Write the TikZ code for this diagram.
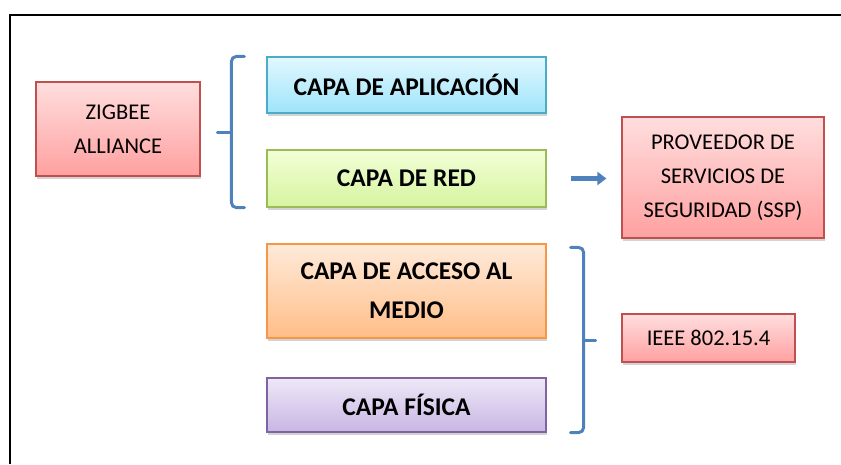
\documentclass[tikz,border=0pt]{standalone}
\usepackage{fontspec}
\setmainfont{Carlito}
\usetikzlibrary{shadows, arrows.meta, calc}
\definecolor{pinkT}{RGB}{255,222,222}
\definecolor{pinkB}{RGB}{255,160,160}
\definecolor{pinkD}{RGB}{192,80,77}
\definecolor{cyanT}{RGB}{226,248,255}
\definecolor{cyanB}{RGB}{158,228,250}
\definecolor{cyanD}{RGB}{75,172,198}
\definecolor{limeT}{RGB}{242,255,214}
\definecolor{limeB}{RGB}{214,244,160}
\definecolor{limeD}{RGB}{155,187,89}
\definecolor{orgT}{RGB}{255,234,218}
\definecolor{orgB}{RGB}{255,190,135}
\definecolor{orgD}{RGB}{247,150,70}
\definecolor{purT}{RGB}{238,232,247}
\definecolor{purB}{RGB}{200,182,228}
\definecolor{purD}{RGB}{128,100,162}
\definecolor{brcC}{RGB}{79,129,189}
\tikzstyle{box}=[draw,line width=1.2pt,inner sep=0pt,align=center,drop shadow={shadow xshift=1pt,shadow yshift=-3pt,opacity=.35}]
\tikzstyle{lay}=[box,minimum width=279pt,font=\fontsize{25.5}{39}\selectfont\bfseries]
\tikzstyle{org}=[box,top color=pinkT,bottom color=pinkB,draw=pinkD,font=\fontsize{22.5}{34}\selectfont]
\tikzstyle{brc}=[brcC,line width=3pt,line cap=round,rounded corners=5pt]
\tikzstyle{arr}=[-{Triangle[length=9pt,width=13pt]},line width=4.5pt,brcC]

\begin{document}
\begin{tikzpicture}[x=1pt,y=-1pt]
    \useasboundingbox (0,0) rectangle (841,464);
    \draw[line width=1.6pt] (10,464) -- (10,15) -- (841,15);
    % organismos
    \node[org,minimum width=164pt,minimum height=94pt] (zig) at (118,129) {ZIGBEE\\ALLIANCE};
    \node[org,minimum width=202pt,minimum height=121pt] (ssp) at (723,177.5) {PROVEEDOR DE\\SERVICIOS DE\\SEGURIDAD (SSP)};
    \node[org,minimum width=173pt,minimum height=48pt] (ieee) at (708.5,338) {IEEE 802.15.4};
    % capas
    \node[lay,minimum height=56pt,top color=cyanT,bottom color=cyanB,draw=cyanD] (app) at (406.5,85) {CAPA DE APLICACIÓN};
    \node[lay,minimum height=57pt,top color=limeT,bottom color=limeB,draw=limeD] (red) at (406.5,178.5) {CAPA DE RED};
    \node[lay,minimum height=94pt,top color=orgT,bottom color=orgB,draw=orgD] (mac) at (406.5,291) {CAPA DE ACCESO AL\\MEDIO};
    \node[lay,minimum height=54pt,top color=purT,bottom color=purB,draw=purD] (phy) at (406.5,405) {CAPA FÍSICA};
    % llaves
    \coordinate (t1) at ($(app.north west)+(-22,0)$);
    \coordinate (b1) at ($(red.south west)+(-22,0)$);
    \coordinate (t2) at ($(mac.north east)+(24,4)$);
    \coordinate (b2) at ($(phy.south east)+(24,0)$);
    \draw[brc] (t1) -- ++(-13,0) -- ($(b1)+(-13,0)$) -- (b1);
    \draw[brc] ($(t1)!.5!(b1)+(-13,0)$) -- ++(-14,0);
    \draw[brc] (t2) -- ++(13,0) -- ($(b2)+(13,0)$) -- (b2);
    \draw[brc] ($(t2)!.5!(b2)+(13,0)$) -- ++(12,0);
    \draw[arr,shorten <=24pt,shorten >=15pt] (red.east) -- (red.east -| ssp.west);
\end{tikzpicture}
\end{document}
